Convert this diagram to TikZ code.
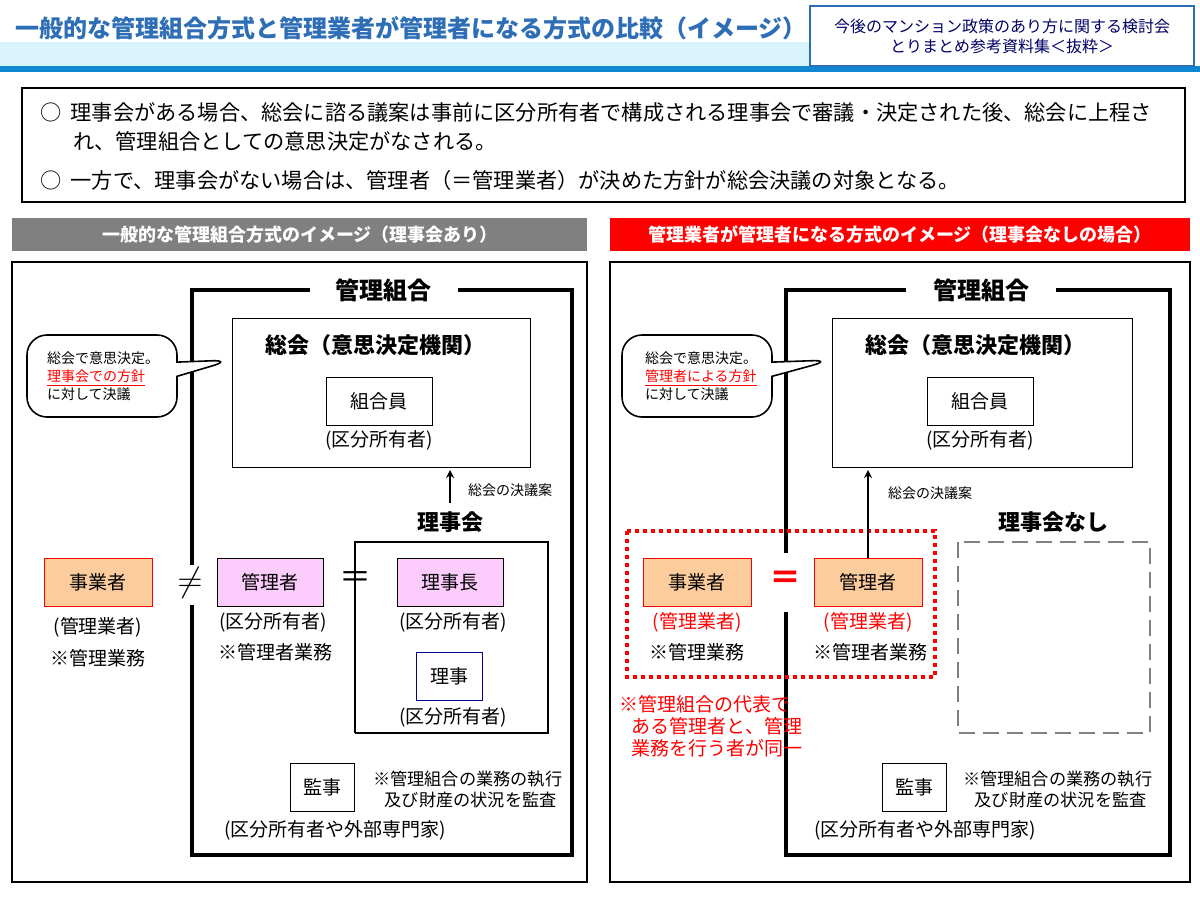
\documentclass[tikz,border=0pt]{standalone}
\usepackage{fontspec}
\setmainfont{Noto Sans CJK JP}
\usetikzlibrary{positioning,calc,shapes.callouts}
\definecolor{hdrblue}{RGB}{46,110,182}
\definecolor{boxorange}{RGB}{252,204,156}
\definecolor{boxpink}{RGB}{252,204,252}
\definecolor{gbar}{RGB}{128,128,128}
\definecolor{rbar}{RGB}{255,0,0}
\tikzset{
  px/.style={x=0.5pt,y=-0.5pt},
  txt/.style={font=\fontsize{9.5}{11}\selectfont},
  note/.style={font=\fontsize{8.6}{10.5}\selectfont},
  sum/.style={font=\fontsize{10.6}{12}\selectfont},
  sm/.style={font=\fontsize{7}{9}\selectfont},
  bold/.style={font=\bfseries\fontsize{11}{13}\selectfont},
  frame/.style={line width=2pt},
  ubox/.style={draw=black,fill=white,minimum width=53pt,minimum height=24pt,txt,inner sep=0pt},
  obox/.style={draw=red,fill=boxorange,minimum width=54pt,minimum height=24pt,txt,inner sep=0pt},
  pbox/.style={draw=black,fill=boxpink,minimum width=53pt,minimum height=24pt,txt,inner sep=0pt},
}
\begin{document}
\begin{tikzpicture}[px]
\useasboundingbox (0,0) rectangle (1200,900);
% header
\fill[cyan!15] (0,42) rectangle (810,66);
\fill[cyan!70!blue] (0,66) rectangle (1200,72);
\node[anchor=west,font=\bfseries\fontsize{12}{13}\selectfont,text=hdrblue] (title) at (8,28) {一般的な管理組合方式と管理業者が管理者になる方式の比較（イメージ）};
\node[draw=hdrblue,thick,fill=white,minimum width=192pt,minimum height=30pt,align=center,font=\fontsize{8}{10}\selectfont,text=blue!40!black] (src) at (1002,36) {今後のマンション政策のあり方に関する検討会\\とりまとめ参考資料集＜抜粋＞};
% summary
\draw[thick] (22,88) rectangle (1185,202);
\node[anchor=west,sum] (l1) at (33,112) {○\ \ 理事会がある場合、総会に諮る議案は事前に区分所有者で構成される理事会で審議・決定された後、総会に上程さ};
\node[anchor=west,sum] (l2) at (66,141) {れ、管理組合としての意思決定がなされる。};
\node[anchor=west,sum] (l3) at (33,180) {○\ \ 一方で、理事会がない場合は、管理者（＝管理業者）が決めた方針が総会決議の対象となる。};
% banners
\fill[gbar] (12,218) rectangle (587,251);
\node[text=white,font=\bfseries\fontsize{9}{11}\selectfont] (bl) at (300,235) {一般的な管理組合方式のイメージ（理事会あり）};
\fill[rbar] (610,218) rectangle (1190,251);
\node[text=white,font=\bfseries\fontsize{9}{11}\selectfont] (br) at (900,235) {管理業者が管理者になる方式のイメージ（理事会なしの場合）};
\draw[thick] (12,262) rectangle (587,882);
\draw[thick] (610,262) rectangle (1190,882);

% ---------- left panel
\draw[frame] (300,290) -| (572,855) -| (192,605);
\draw[frame] (192,565) |- (192,290) -- (300,290);
\draw[frame,white] (310,290) -- (458,290);
\node[bold,font=\bfseries\fontsize{12}{14}\selectfont] (kl) at (383,290) {管理組合};
\draw (232,318) rectangle (530,467);
\node[bold] (sl) at (375,345) {総会（意思決定機関）};
\node[ubox] (kml) at (379,401) {組合員};
\node[txt] (kml2) at (379,440) {(区分所有者)};
\coordinate (al) at (450,503);
\draw[-stealth,thick] (al) -- (450,470);
\node[sm] (ketl) at (510,490) {総会の決議案};
\node[bold] (rl) at (450,522) {理事会};
\draw[thick] (355,733) -- (355,542) -- (548,542) -- (548,733) -- (355,733);
\node[pbox] (rcl) at (450,582) {理事長};
\node[txt] (rcl2) at (453,622) {(区分所有者)};
\node[draw=blue!60!black,fill=white,minimum width=33pt,minimum height=24pt,txt] (rjl) at (449,676) {理事};
\node[txt] (rjl2) at (453,717) {(区分所有者)};
\node[pbox] (kal) at (270,582) {管理者};
\node[txt] (kal2) at (273,622) {(区分所有者)};
\node[txt] (kal3) at (275,652) {※管理者業務};
\node[obox] (jgl) at (98,582) {事業者};
\node[txt] (jgl2) at (98,627) {(管理業者)};
\node[txt] (jgl3) at (98,658) {※管理業務};
\node[font=\fontsize{16}{16}\selectfont] (ne) at (190,583) {$\neq$};
\node[font=\fontsize{16}{16}\selectfont] (eql) at (355,580) {＝};
\node[ubox,minimum width=32pt] (kjl) at (322,787) {監事};
\node[note,align=left,anchor=west] (kjl2) at (366,789) {※管理組合の業務の執行\\\ \ \ 及び財産の状況を監査};
\node[txt] (kjl3) at (335,830) {(区分所有者や外部専門家)};
\node[rectangle callout,rounded corners=10pt,draw,thick,fill=white,minimum width=75pt,minimum height=41pt,callout absolute pointer={(232,360)}] (cbl) at (102,376) {};
\node[sm,anchor=west,align=left] (cbl2) at (40,376) {総会で意思決定。\\{\color{red}\underline{理事会での方針}}\\に対して決議};

% ---------- right panel
\draw[frame] (898,290) -| (1170,855) -| (786,612);
\draw[frame] (786,553) |- (786,290) -- (898,290);
\draw[frame,white] (906,290) -- (1056,290);
\node[bold,font=\bfseries\fontsize{12}{14}\selectfont] (kr) at (981,290) {管理組合};
\draw (832,318) rectangle (1132,467);
\node[bold] (sr) at (975,345) {総会（意思決定機関）};
\node[ubox] (kmr) at (980,401) {組合員};
\node[txt] (kmr2) at (980,440) {(区分所有者)};
\node[bold] (rr) at (1053,522) {理事会なし};
\draw[gray,thick,dash pattern=on 8pt off 4pt] (958,542) rectangle (1150,733);
\draw[red,line width=2pt,dash pattern=on 2pt off 2pt] (627,531) rectangle (935,677);
\node[obox] (jgr) at (697,582) {事業者};
\node[txt,text=red] (jgr2) at (697,622) {(管理業者)};
\node[txt] (jgr3) at (697,652) {※管理業務};
\node[obox] (kar) at (868,582) {管理者};
\node[txt,text=red] (kar2) at (868,622) {(管理業者)};
\node[txt] (kar3) at (870,652) {※管理者業務};
\draw[-stealth,thick] (kar) -- (868,470);
\node[sm] (ketr) at (930,493) {総会の決議案};
\node[font=\bfseries\fontsize{16}{16}\selectfont,text=red] (eqr) at (785,580) {＝};
\node[txt,text=red,align=left,anchor=north west] (note) at (612,688) {※管理組合の代表で\\\ \ \ ある管理者と、管理\\\ \ \ 業務を行う者が同一};
\node[ubox,minimum width=32pt] (kjr) at (914,787) {監事};
\node[note,align=left,anchor=west] (kjr2) at (956,789) {※管理組合の業務の執行\\\ \ \ 及び財産の状況を監査};
\node[txt] (kjr3) at (925,830) {(区分所有者や外部専門家)};
\node[rectangle callout,rounded corners=10pt,draw,thick,fill=white,minimum width=75pt,minimum height=41pt,callout absolute pointer={(832,360)}] (cbr) at (697,376) {};
\node[sm,anchor=west,align=left] (cbr2) at (638,376) {総会で意思決定。\\{\color{red}\underline{管理者による方針}}\\に対して決議};
\end{tikzpicture}
\end{document}
